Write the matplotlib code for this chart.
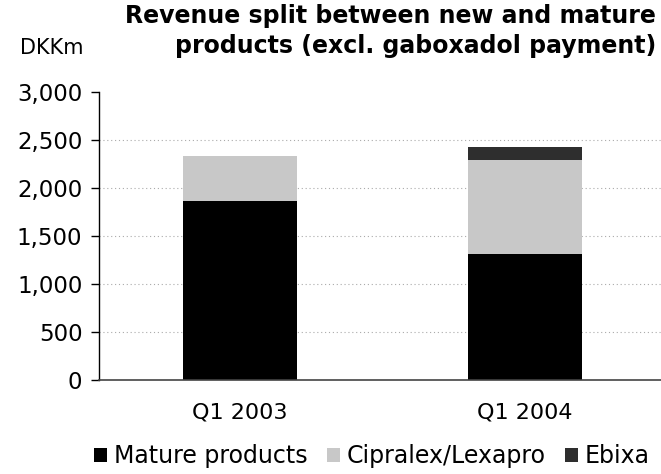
import numpy as np
import matplotlib.pyplot as plt
from matplotlib.patches import Patch

# values (DKKm)
quarters = ["Q1 2003", "Q1 2004"]
mature = [1865, 1312]
cipralex = [468, 978]
ebixa = [0, 137]
series_names = ["Mature products", "Cipralex/Lexapro", "Ebixa"]
yticks = [0, 500, 1000, 1500, 2000, 2500, 3000]

colors = ["#000000", "#c8c8c8", "#2e2e2e"]

plt.rcParams['font.family'] = ['DejaVu Sans']

fig = plt.figure(figsize=(6.61, 4.74), dpi=100)
ax = fig.add_axes([99 / 661, 1 - 380 / 474, 1 - 99 / 661, 288 / 474])

x = np.arange(len(quarters))
w = 0.4
bottom = np.zeros(len(quarters))
for vals, c in zip([mature, cipralex, ebixa], colors):
    ax.bar(x, vals, w, bottom=bottom, color=c, edgecolor="none", zorder=2)
    bottom += np.array(vals)

ax.set_ylim(0, 3000)
ax.set_xlim(-0.495, 1.477)
ax.set_yticks(yticks)
ax.set_yticklabels(["{:,}".format(v) for v in yticks])
ax.set_xticks(x)
ax.set_xticklabels(quarters)
ax.tick_params(axis="y", direction="out", length=6, width=1, labelsize=16.5, pad=6)
ax.tick_params(axis="x", length=0, labelsize=16, pad=16)

for v in yticks[1:-1]:
    ax.axhline(v, color="#aaaaaa", linestyle=(0, (1, 2.5)), linewidth=0.8, zorder=1)

for s in ["top", "right"]:
    ax.spines[s].set_visible(False)
ax.spines["left"].set_linewidth(1)
ax.spines["bottom"].set_linewidth(1.2)
ax.spines["bottom"].set_color("#444444")

fig.text(656 / 661, 1 - 31 / 474,
         "Revenue split between new and mature\nproducts (excl. gaboxadol payment)",
         ha="right", va="center", fontsize=17, fontweight="bold",
         linespacing=1.3)
fig.text(83 / 661, 1 - 48 / 474, "DKKm", ha="right", va="center", fontsize=15)

handles = [Patch(facecolor=c, edgecolor="none") for c in colors]
fig.legend(handles, series_names, loc="center", bbox_to_anchor=(372 / 661, 1 - 456 / 474),
           ncol=3, frameon=False, fontsize=17, handlelength=0.55, handleheight=0.55,
           handletextpad=0.3, columnspacing=0.8, borderpad=0)

fig.savefig("out.png", dpi=100)
